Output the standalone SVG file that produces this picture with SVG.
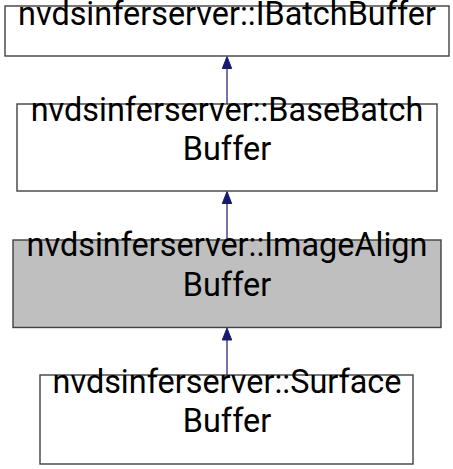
<svg xmlns="http://www.w3.org/2000/svg" width="453" height="469" viewBox="0 0 453 469">
<style>
.box{fill:#ffffff;stroke:#404040;stroke-width:1.4}
.cur{fill:#bfbfbf;stroke:#404040;stroke-width:1.4}
.t{font-family:Roboto,"Liberation Sans",sans-serif;font-size:32.4px;text-anchor:middle;fill:#000000}
.e{stroke:#191970;stroke-width:1.2;fill:none}
.h{fill:#191970;stroke:#191970}
</style>
<rect width="453" height="469" fill="#ffffff"/>
<g id="connectors">
<line class="e" x1="227" y1="104" x2="227" y2="68"/>
<polygon class="h" points="227,56.5 222.3,68.5 231.7,68.5"/>
<line class="e" x1="227" y1="240" x2="227" y2="203.5"/>
<polygon class="h" points="227,191.5 222.3,203.5 231.7,203.5"/>
<line class="e" x1="227" y1="375" x2="227" y2="340"/>
<polygon class="h" points="227,328 222.3,340 231.7,340"/>
</g>
<g id="node-IBatchBuffer">
<rect class="box" x="5" y="6" width="444" height="50"/>
<text class="t" x="227" y="25">nvdsinferserver::IBatchBuffer</text>
</g>
<g id="node-BaseBatchBuffer">
<rect class="box" x="17" y="104" width="420" height="87"/>
<text class="t" x="227" y="120.5">nvdsinferserver::BaseBatch</text>
<text class="t" x="227" y="160">Buffer</text>
</g>
<g id="node-ImageAlignBuffer">
<rect class="cur" x="13" y="240" width="428" height="87.5"/>
<text class="t" x="227" y="256">nvdsinferserver::ImageAlign</text>
<text class="t" x="227" y="295.5">Buffer</text>
</g>
<g id="node-SurfaceBuffer">
<rect class="box" x="40" y="375" width="373" height="89"/>
<text class="t" x="227" y="392.5">nvdsinferserver::Surface</text>
<text class="t" x="227" y="431.5">Buffer</text>
</g>
</svg>
